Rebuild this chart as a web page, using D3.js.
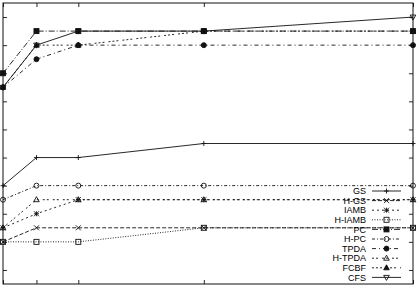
<!DOCTYPE html>
<html>
<head>
<meta charset="utf-8">
<script src="https://cdn.jsdelivr.net/npm/d3@7"></script>
<style>
  html, body { margin: 0; padding: 0; background: #fff; }
  svg { display: block; }
</style>
</head>
<body>
<svg id="chart" width="418" height="290"></svg>
<script>
// ---- data ----
const sampleSizes = [100, 500, 1000, 2500, 5000];
const seriesNames = ["GS", "H-GS", "IAMB", "H-IAMB", "PC", "H-PC", "TPDA", "H-TPDA", "FCBF", "CFS"];
const gsValues     = [6, 8, 8, 9, 9];
const hgsValues    = [2, 3, 3, 3, 3];
const iambValues   = [3, 4, 5, 5, 5];
const hiambValues  = [2, 2, 2, 3, 3];
const pcValues     = [14, 17, 17, 17, 17];
const hpcValues    = [5, 6, 6, 6, 6];
const tpdaValues   = [13, 15, 16, 16, 16];
const htpdaValues  = [3, 5, 5, 5, 5];
const fcbfValues   = [13, 16, 16, 17, 17];
const cfsValues    = [13, 16, 17, 17, 18];
const yTickValues  = [0, 2, 4, 6, 8, 10, 12, 14, 16, 18];
const xTickValues  = [100, 500, 1000, 2500, 5000];

const allValues = [gsValues, hgsValues, iambValues, hiambValues, pcValues,
                   hpcValues, tpdaValues, htpdaValues, fcbfValues, cfsValues];

// ---- styles (gnuplot-like monochrome) ----
const dashes  = ["", "4,2", "2,3", "1,1.5", "6,2,1,2", "3,2,1,2", "4,3,1,3", "2,2,2,4", "2,2,2,2,2,4", ""];
const markers = ["plus", "cross", "star", "square", "squareFilled", "circle", "circleFilled", "triangle", "triangleFilled", "triangleDown"];

const svg = d3.select("#chart");
const L = 3, R = 413, T = 3, B = 284;
const x = d3.scaleLinear().domain([100, 5000]).range([L, R]);
const y = d3.scaleLinear().domain([-1, 19]).range([B, T]);
const LW = 0.9, INK = "#111";

function styleAxis(g) {
  g.select(".domain").remove();
  g.selectAll(".tick line").attr("stroke", INK).attr("stroke-width", LW);
  g.selectAll(".tick text").remove();
}
svg.append("g").attr("transform", `translate(${L},0)`)
  .call(d3.axisLeft(y).tickValues(yTickValues).tickSize(-4)).call(styleAxis);
svg.append("g").attr("transform", `translate(${R},0)`)
  .call(d3.axisRight(y).tickValues(yTickValues).tickSize(-4)).call(styleAxis);
svg.append("g").attr("transform", `translate(0,${B})`)
  .call(d3.axisBottom(x).tickValues(xTickValues).tickSize(-4)).call(styleAxis);
svg.append("g").attr("transform", `translate(0,${T})`)
  .call(d3.axisTop(x).tickValues(xTickValues).tickSize(-4)).call(styleAxis);

svg.append("rect").attr("x", L).attr("y", T).attr("width", R - L).attr("height", B - T)
  .attr("fill", "none").attr("stroke", INK).attr("stroke-width", 1);

function drawMarker(g, type, cx, cy) {
  const s = 2.5;
  const apply = (sel, fill) => sel.attr("stroke", INK).attr("stroke-width", LW).attr("fill", fill);
  switch (type) {
    case "plus":
      apply(g.append("path").attr("d", `M${cx - s},${cy}H${cx + s}M${cx},${cy - s}V${cy + s}`), "none"); break;
    case "cross":
      apply(g.append("path").attr("d", `M${cx - s},${cy - s}L${cx + s},${cy + s}M${cx - s},${cy + s}L${cx + s},${cy - s}`), "none"); break;
    case "star":
      apply(g.append("path").attr("d", `M${cx - s},${cy}H${cx + s}M${cx},${cy - s}V${cy + s}M${cx - s},${cy - s}L${cx + s},${cy + s}M${cx - s},${cy + s}L${cx + s},${cy - s}`), "none"); break;
    case "square":
      apply(g.append("rect").attr("x", cx - s).attr("y", cy - s).attr("width", 2 * s).attr("height", 2 * s), "none"); break;
    case "squareFilled":
      apply(g.append("rect").attr("x", cx - s).attr("y", cy - s).attr("width", 2 * s).attr("height", 2 * s), INK); break;
    case "circle":
      apply(g.append("circle").attr("cx", cx).attr("cy", cy).attr("r", s), "none"); break;
    case "circleFilled":
      apply(g.append("circle").attr("cx", cx).attr("cy", cy).attr("r", s), INK); break;
    case "triangle":
      apply(g.append("path").attr("d", `M${cx},${cy - s - 0.5}L${cx + s + 0.3},${cy + s - 0.5}L${cx - s - 0.3},${cy + s - 0.5}Z`), "none"); break;
    case "triangleFilled":
      apply(g.append("path").attr("d", `M${cx},${cy - s - 0.5}L${cx + s + 0.3},${cy + s - 0.5}L${cx - s - 0.3},${cy + s - 0.5}Z`), INK); break;
    case "triangleDown":
      apply(g.append("path").attr("d", `M${cx},${cy + s + 0.5}L${cx + s + 0.3},${cy - s + 0.5}L${cx - s - 0.3},${cy - s + 0.5}Z`), "none"); break;
  }
}

const line = d3.line().x((d, i) => x(sampleSizes[i])).y(d => y(d));

allValues.forEach((vals, k) => {
  const g = svg.append("g");
  g.append("path").datum(vals).attr("d", line)
    .attr("fill", "none").attr("stroke", INK).attr("stroke-width", LW)
    .attr("stroke-dasharray", dashes[k] || null);
  vals.forEach((v, i) => drawMarker(g, markers[k], x(sampleSizes[i]), y(v)));
});

// legend
const legendY0 = 191, legendStep = 9.6;
seriesNames.forEach((name, k) => {
  const ly = legendY0 + k * legendStep;
  const g = svg.append("g");
  g.append("text").attr("x", 366).attr("y", ly).attr("dy", "0.35em")
    .attr("text-anchor", "end").attr("font-family", "'Liberation Sans', Arial, sans-serif")
    .attr("font-size", 9).attr("fill", "#000").text(name);
  g.append("line").attr("x1", 372).attr("x2", 401).attr("y1", ly).attr("y2", ly)
    .attr("stroke", INK).attr("stroke-width", LW).attr("stroke-dasharray", dashes[k] || null);
  drawMarker(g, markers[k], 386.5, ly);
});
</script>
</body>
</html>
